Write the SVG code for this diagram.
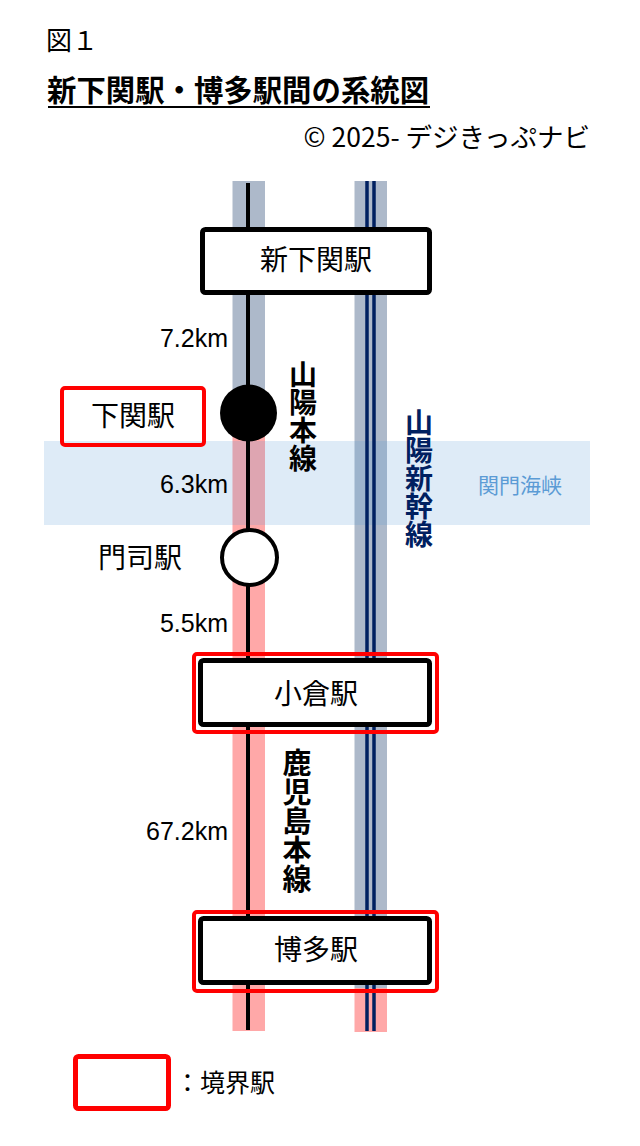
<svg xmlns="http://www.w3.org/2000/svg" width="640" height="1146" viewBox="0 0 640 1146">
<style>
.jp{font-family:"Noto Sans CJK JP","Noto Sans",sans-serif;fill:#000}
.km{font-family:"Liberation Sans",Arial,sans-serif;font-size:25px;fill:#000;text-anchor:end}
.stn{font-size:28px;text-anchor:middle}
.vt{font-size:28px;font-weight:bold;writing-mode:vertical-rl;text-anchor:start}
.box{fill:#fff;stroke:#000;stroke-width:5}
.red{fill:none;stroke:#ff0000;stroke-width:4}
.gray{fill:#adb9ca}
.pink{fill:#ffa8a8}
.navy{stroke:#002060;stroke-width:3.5}
</style>
<rect width="640" height="1146" fill="#fff"/>

<g id="header">
<text class="jp" x="46" y="50" font-size="26">図１</text>
<text class="jp" x="47" y="101" font-size="29.4" font-weight="bold">新下関駅・博多駅間の系統図</text>
<line x1="48" y1="107" x2="430" y2="107" stroke="#000" stroke-width="2"/>
<text class="jp" x="590" y="147" font-size="26.5" text-anchor="end">© 2025- デジきっぷナビ</text>
</g>

<g id="connectors">
<rect class="gray" x="232.5" y="181" width="32.5" height="233"/>
<rect class="pink" x="232.5" y="414" width="32.5" height="617"/>
<rect class="gray" x="354.5" y="181" width="32.5" height="807"/>
<rect class="pink" x="354.5" y="988" width="32.5" height="44"/>
</g>

<g id="strait">
<rect x="44" y="441" width="546" height="84" fill="#5b9bd5" fill-opacity="0.2"/>
<text class="jp" x="520" y="493" font-size="21" style="fill:#5b9bd5" text-anchor="middle">関門海峡</text>
</g>

<g id="lines">
<line x1="248" y1="183" x2="248" y2="1030" stroke="#000" stroke-width="4"/>
<line class="navy" x1="367" y1="181" x2="367" y2="1031"/>
<line class="navy" x1="374" y1="181" x2="374" y2="1031"/>
</g>

<g id="line-labels">
<text class="jp vt" x="303" y="360">山陽本線</text>
<text class="jp vt" x="419" y="408.5" style="fill:#002060">山陽新幹線</text>
<text class="jp vt" x="297" y="748.5" style="font-size:29px">鹿児島本線</text>
</g>

<g id="distances">
<text class="km" x="228" y="347">7.2km</text>
<text class="km" x="228" y="493">6.3km</text>
<text class="km" x="228" y="632">5.5km</text>
<text class="km" x="228" y="840">67.2km</text>
</g>

<g id="shin-shimonoseki">
<rect class="box" x="202.5" y="229.5" width="227" height="63" rx="3"/>
<text class="jp stn" x="316" y="270">新下関駅</text>
</g>

<g id="shimonoseki">
<circle cx="248.5" cy="413" r="28.5" fill="#000"/>
<rect class="red" x="62" y="388" width="142" height="57" rx="3"/>
<text class="jp stn" x="133" y="425.5">下関駅</text>
</g>

<g id="moji">
<circle cx="249.5" cy="557.5" r="27.5" fill="#fff" stroke="#000" stroke-width="4"/>
<text class="jp stn" x="140" y="568">門司駅</text>
</g>

<g id="kokura">
<rect class="red" x="194" y="654" width="243" height="78" rx="3"/>
<rect class="box" x="200.5" y="660.5" width="229" height="64" rx="3"/>
<text class="jp stn" x="316" y="704">小倉駅</text>
</g>

<g id="hakata">
<rect class="red" x="194" y="912" width="243" height="79" rx="3"/>
<rect class="box" x="200.5" y="918.5" width="229" height="64" rx="3"/>
<text class="jp stn" x="316" y="960">博多駅</text>
</g>

<g id="legend">
<rect x="75.5" y="1056.5" width="93" height="52" rx="3" fill="none" stroke="#ff0000" stroke-width="5"/>
<text class="jp" x="175" y="1091.5" font-size="25">：境界駅</text>
</g>
</svg>
